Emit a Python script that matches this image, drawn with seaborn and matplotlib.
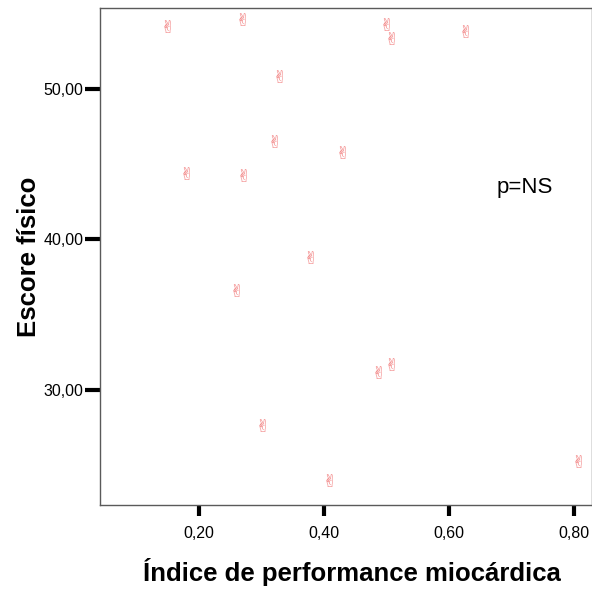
import numpy as np
import pandas as pd
import matplotlib
matplotlib.use("Agg")
import matplotlib.pyplot as plt
import seaborn as sns

# Dados
indice = [0.149, 0.269, 0.499, 0.507, 0.626, 0.328, 0.320, 0.429, 0.179,
          0.270, 0.378, 0.259, 0.486, 0.507, 0.301, 0.408, 0.806]
escore = [54.19, 54.65, 54.32, 53.39, 53.85, 50.86, 46.55, 45.81, 44.42,
          44.29, 38.84, 36.64, 31.20, 31.73, 27.67, 24.02, 25.28]
xticks = [0.2, 0.4, 0.6, 0.8]
yticks = [30, 40, 50]

df = pd.DataFrame({'Indice': indice, 'Escore': escore})

sns.set_style("white")
plt.rcParams['font.family'] = ['Liberation Sans', 'DejaVu Sans']
plt.rcParams['mathtext.fontset'] = 'dejavusans'
plt.rcParams['text.color'] = 'black'
plt.rcParams['axes.labelcolor'] = 'black'
plt.rcParams['xtick.color'] = 'black'
plt.rcParams['ytick.color'] = 'black'

fig = plt.figure(figsize=(5.92, 5.89), dpi=100)
ax = fig.add_axes([100/592, 84/589, 492/592, 497/589])

sns.scatterplot(data=df, x='Indice', y='Escore', ax=ax, marker='$✌$',
                color='#f07070', s=85, linewidth=0, legend=False)

ax.set_xlim(0.0416, 0.829)
ax.set_ylim(22.36, 55.38)
ax.set_xticks(xticks)
ax.set_yticks(yticks)
ax.set_xticklabels([f"{v:.2f}".replace('.', ',') for v in xticks], fontsize=11.5)
ax.set_yticklabels([f"{v:.2f}".replace('.', ',') for v in yticks], fontsize=11.5)
ax.tick_params(axis='x', direction='out', length=8, width=3, pad=7, bottom=True)
ax.tick_params(axis='y', direction='out', length=11, width=3, pad=1, left=True)
for sp in ax.spines.values():
    sp.set_color('#5a5a5a')
    sp.set_linewidth(1)

ax.set_xlabel('Índice de performance miocárdica', fontsize=18.5, fontweight='bold', labelpad=12)
ax.xaxis.label.set_x(0.512)
ax.set_ylabel('Escore físico', fontsize=18.5, fontweight='bold', labelpad=2)
ax.text(0.677, 43.09, 'p=NS', fontsize=16, va='baseline')

fig.savefig('out.png', dpi=100)
